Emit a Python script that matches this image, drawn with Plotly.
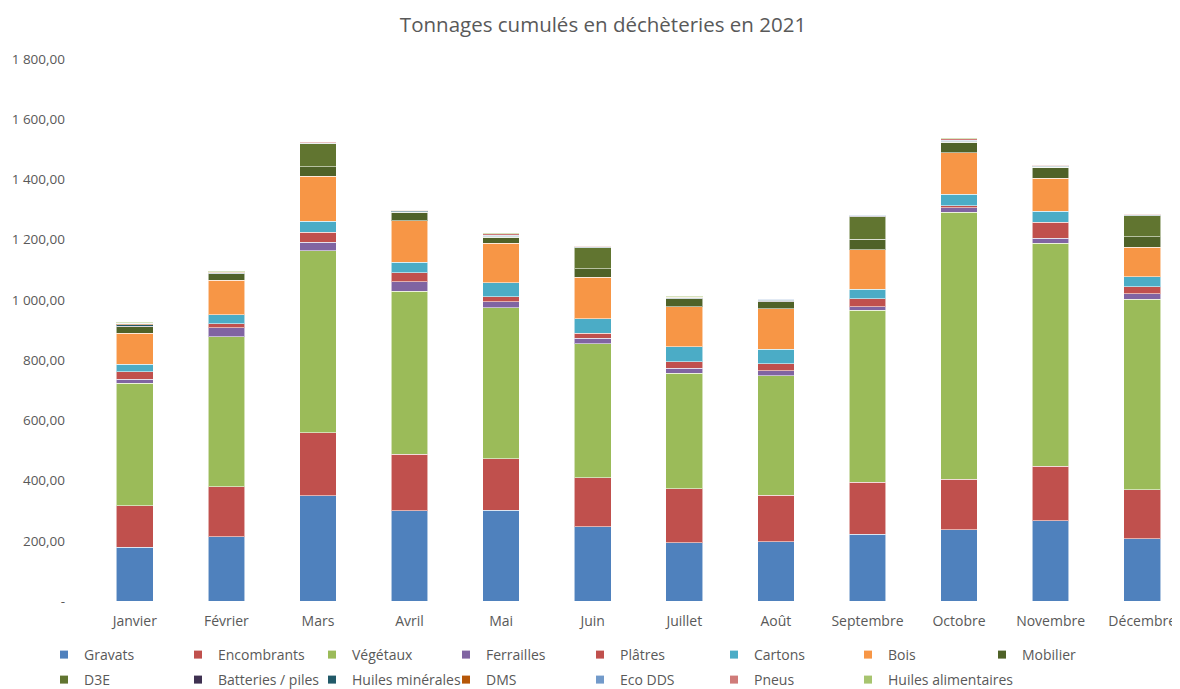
import plotly.graph_objects as go

months = ["Janvier", "Février", "Mars", "Avril", "Mai", "Juin", "Juillet", "Août",
          "Septembre", "Octobre", "Novembre", "Décembre"]

gravats = [179, 213, 349, 299, 302, 246, 193, 196, 222, 236, 266, 206]
encombrants = [138, 166, 209, 189, 170, 163, 179, 156, 173, 169, 182, 163]
vegetaux = [406, 499, 605, 541, 502, 445, 384, 396, 570, 886, 740, 633]
ferrailles = [13, 30, 28, 32, 20, 19, 17, 17, 12, 15, 17, 18]
platres = [25, 12, 34, 29, 17, 16, 21, 23, 26, 6, 53, 24]
cartons = [25, 30, 37, 35, 46, 48, 50, 48, 33, 39, 37, 33]
bois = [103, 116, 148, 138, 131, 138, 133, 134, 131, 138, 109, 98]
mobilier = [22, 20, 33, 28, 20, 28, 26, 24, 35, 35, 36, 35]
d3e = [0, 0, 75, 0, 0, 70, 0, 0, 74, 0, 0, 69]
batteries = [1, 1, 1, 1, 1, 1, 1, 1, 1, 1, 1, 1]
huiles_min = [6, 2, 1, 4, 2, 1, 1, 4, 2, 2, 3, 1]
dms = [2, 3, 1, 1, 2, 1, 3, 2, 1, 2, 1, 1]
eco_dds = [2, 1, 1, 1, 1, 1, 1, 1, 1, 1, 1, 1]
pneus = [1, 1, 3, 1, 5, 1, 1, 1, 1, 5, 1, 1]
huiles_alim = [2, 1, 1, 1, 2, 1, 2, 1, 1, 3, 2, 1]

series = [
    ("Gravats", gravats, "#4F81BD"),
    ("Encombrants", encombrants, "#C0504D"),
    ("Végétaux", vegetaux, "#9BBB59"),
    ("Ferrailles", ferrailles, "#8064A2"),
    ("Plâtres", platres, "#C0504D"),
    ("Cartons", cartons, "#4BACC6"),
    ("Bois", bois, "#F79646"),
    ("Mobilier", mobilier, "#4F6228"),
    ("D3E", d3e, "#617530"),
    ("Batteries / piles", batteries, "#3F3151"),
    ("Huiles minérales", huiles_min, "#215968"),
    ("DMS", dms, "#B65708"),
    ("Eco DDS", eco_dds, "#729ACA"),
    ("Pneus", pneus, "#D07B79"),
    ("Huiles alimentaires", huiles_alim, "#A7C46F"),
]

ytick_vals = [0, 200, 400, 600, 800, 1000, 1200, 1400, 1600, 1800]
ytick_text = ["-", "200,00", "400,00", "600,00", "800,00", "1 000,00", "1 200,00",
              "1 400,00", "1 600,00", "1 800,00"]

fig = go.Figure()
for i, (name, vals, color) in enumerate(series):
    if i < 8:
        leg = "legend"
    elif i < 14:
        leg = "legend2"
    else:
        leg = "legend3"
    fig.add_trace(go.Bar(
        x=months, y=vals, name=name, legendgroup=name, showlegend=False,
        marker=dict(color=color, line=dict(color="rgba(255,255,255,0.55)", width=1)),
    ))
    # legend entry with a small square symbol
    fig.add_trace(go.Scatter(
        x=[None], y=[None], mode="markers", name=name, legendgroup=name, legend=leg,
        marker=dict(symbol="square", size=8, color=color), showlegend=True,
    ))

# figure-coordinate layout (page adds 8px body margin)
L, T, B = 81, 51, 96
PW, PH = 1180 - L, 689 - T - B
COL = 134
LEG_X0 = 36

font_family = "Open Sans, Liberation Sans, sans-serif"
legend_common = dict(orientation="h", xanchor="left", yanchor="middle",
                     entrywidth=COL - 45, entrywidthmode="pixels", traceorder="normal",
                     font=dict(size=14, color="#595959"), itemwidth=30,
                     bgcolor="rgba(0,0,0,0)")
row1_y = (PH + T - 647) / PH
row2_y = (PH + T - 672) / PH
fig.update_layout(
    barmode="stack",
    bargap=0.6,
    width=1180, height=689,
    margin=dict(l=L, r=0, t=T, b=B, autoexpand=False),
    paper_bgcolor="white", plot_bgcolor="white",
    font=dict(family=font_family, color="#595959", size=13),
    title=dict(text="Tonnages cumulés en déchèteries en 2021", x=595 / 1180, xanchor="center",
               xref="container", yref="container",
               y=1 - 17 / 689, yanchor="middle", font=dict(size=20.5, color="#595959")),
    xaxis=dict(range=[-0.5, 11.5], showgrid=False, zeroline=False, showline=False,
               ticks="", tickfont=dict(size=14, color="#595959"), ticklabelstandoff=10),
    yaxis=dict(range=[0, 1800], tickvals=ytick_vals, ticktext=ytick_text,
               showgrid=False, zeroline=False, showline=False, ticks="",
               tickfont=dict(size=13.5, color="#595959"), ticklabelstandoff=23),
    legend=dict(x=(LEG_X0 - L) / PW, y=row1_y, **legend_common),
    legend2=dict(x=(LEG_X0 - L) / PW, y=row2_y, **legend_common),
    legend3=dict(orientation="h", xanchor="left", yanchor="middle",
                 x=(LEG_X0 + 6 * COL - L) / PW, y=row2_y, itemwidth=30,
                 font=dict(size=14, color="#595959"), bgcolor="rgba(0,0,0,0)"),
)

fig.write_html("out.html")
